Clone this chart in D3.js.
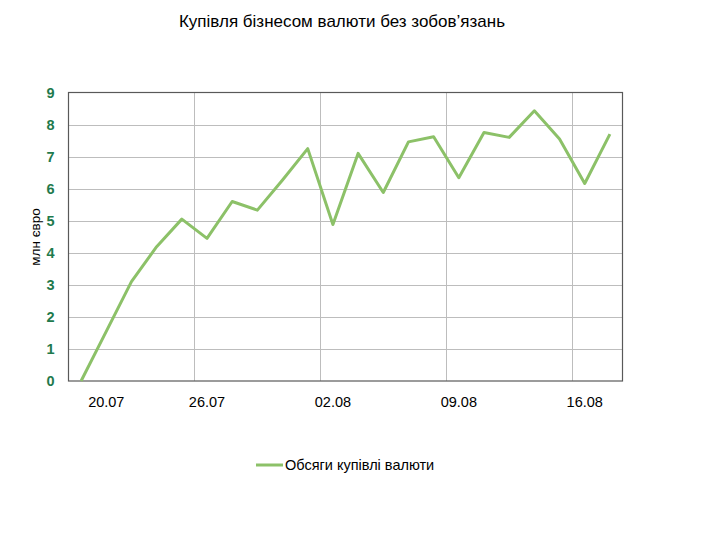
<!DOCTYPE html>
<html><head><meta charset="utf-8">
<script src="https://cdn.jsdelivr.net/npm/d3@7"></script>
<style>body{margin:0;background:#fff}svg{display:block;font-family:"Liberation Sans",Arial,sans-serif}</style>
</head><body><svg id="c" width="707" height="533"></svg>
<script>
const dates = ["19.07","20.07","21.07","22.07","23.07","26.07","27.07","28.07","29.07","30.07","02.08","03.08","04.08","05.08","06.08","09.08","10.08","11.08","12.08","13.08","16.08","17.08"];
const values = [0, 1.55, 3.1, 4.19, 5.05, 4.45, 5.6, 5.33, 6.27, 7.25, 4.88, 7.1, 5.88, 7.46, 7.62, 6.34, 7.75, 7.6, 8.43, 7.55, 6.16, 7.7];
const shownLabels = ["20.07","26.07","02.08","09.08","16.08"];
const gridAt = ["26.07","02.08","09.08","16.08"];
const yTicks = [0,1,2,3,4,5,6,7,8,9];
const title = "Купівля бізнесом валюти без зобов’язань";
const seriesName = "Обсяги купівлі валюти";
const yTitle = "млн євро";

const svg = d3.select("#c");
const L = 68.5, R = 622.5, T = 92.5, B = 381;
const x = d3.scaleBand().domain(dates).range([L, R]);
const y = d3.scaleLinear().domain([0, 9]).range([B, T]);
const lineColor = "#8cc168";

// horizontal grid
svg.append("g").selectAll("line").data(yTicks.filter(d => d > 0 && d < 9)).join("line")
  .attr("x1", L).attr("x2", R).attr("y1", d => Math.round(y(d)) + 0.5).attr("y2", d => Math.round(y(d)) + 0.5)
  .attr("stroke", "#bdbdbd").attr("stroke-width", 1);
// vertical grid at category boundaries
svg.append("g").selectAll("line").data(gridAt).join("line")
  .attr("x1", d => Math.round(x(d)) + 0.5).attr("x2", d => Math.round(x(d)) + 0.5)
  .attr("y1", T).attr("y2", B).attr("stroke", "#bdbdbd").attr("stroke-width", 1);
// border
svg.append("rect").attr("x", L).attr("y", T).attr("width", R - L).attr("height", B - T)
  .attr("fill", "none").attr("stroke", "#595959").attr("stroke-width", 1.2);

// y axis labels
const yAxis = d3.axisLeft(y).tickValues(yTicks).tickSize(0).tickPadding(14);
const gy = svg.append("g").attr("transform", `translate(${L},0)`).call(yAxis);
gy.select(".domain").remove();
gy.selectAll("text").attr("fill", "#1f7a4d").attr("font-size", 14.5).attr("font-weight", "bold")
  .attr("font-family", "Liberation Sans, Arial, sans-serif");

// x axis labels
const xAxis = d3.axisBottom(x).tickValues(shownLabels).tickSize(0).tickPadding(16);
const gx = svg.append("g").attr("transform", `translate(0,${B})`).call(xAxis);
gx.select(".domain").remove();
gx.selectAll("text").attr("fill", "#000").attr("font-size", 14.5)
  .attr("font-family", "Liberation Sans, Arial, sans-serif");

// line
const line = d3.line().x((d, i) => x(dates[i]) + x.bandwidth() / 2).y(d => y(d));
svg.append("path").datum(values).attr("d", line).attr("fill", "none")
  .attr("stroke", lineColor).attr("stroke-width", 3).attr("stroke-linejoin", "round");

// title
svg.append("text").attr("x", 342).attr("y", 27).attr("text-anchor", "middle")
  .attr("font-size", 17).attr("fill", "#000").text(title);
// y title
svg.append("text").attr("transform", "translate(40,237) rotate(-90)").attr("text-anchor", "middle")
  .attr("font-size", 13.5).attr("fill", "#000").text(yTitle);
// legend
svg.append("line").attr("x1", 256).attr("x2", 283).attr("y1", 465).attr("y2", 465)
  .attr("stroke", lineColor).attr("stroke-width", 3);
svg.append("text").attr("x", 285).attr("y", 470).attr("font-size", 14.5).attr("fill", "#000").text(seriesName);
</script></body></html>
